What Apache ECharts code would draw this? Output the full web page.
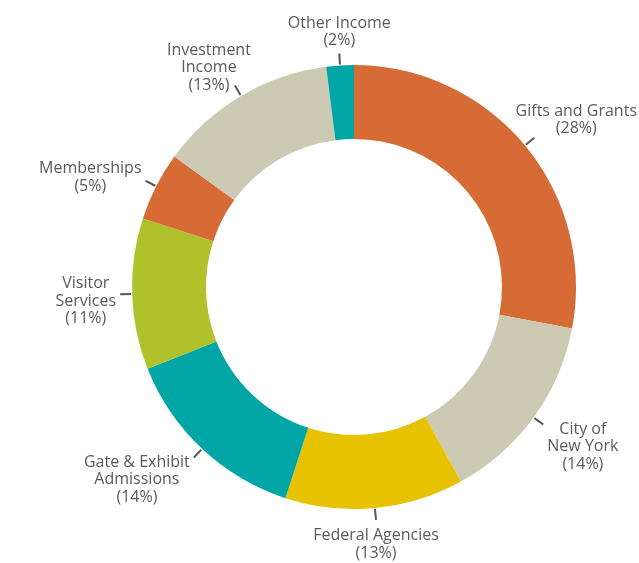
<!DOCTYPE html>
<html>
<head>
<meta charset="utf-8">
<script src="https://cdn.jsdelivr.net/npm/echarts@6/dist/echarts.min.js"></script>
<style>
  html, body { margin: 0; padding: 0; background: #fff; }
  #chart { width: 639px; height: 563px; }
</style>
</head>
<body>
<div id="chart"></div>
<script>
// 收入来源 (clockwise from the top)
const categories = [
  "Gifts and Grants",
  "City of\nNew York",
  "Federal Agencies",
  "Gate & Exhibit\nAdmissions",
  "Visitor\nServices",
  "Memberships",
  "Investment\nIncome",
  "Other Income",
];
const shares = [28, 14, 13, 14, 11, 5, 13, 2];
const sliceColors = [
  "#d66b36", "#cdcab3", "#e7c200", "#00a5a5",
  "#afc22b", "#d66b36", "#cdcab3", "#00a5a5",
];

const W = 639;
const cx = 354, cy = 287, outerR = 222, innerR = 148;
const total = shares.reduce((a, b) => a + b, 0);

// 每个扇区的中间角度 (从正上方顺时针)
function midAngle(i) {
  let before = 0;
  for (let k = 0; k < i; k++) before += shares[k];
  return ((before + shares[i] / 2) / total) * Math.PI * 2;
}

const chart = echarts.init(document.getElementById("chart"));
chart.setOption({
  animation: false,
  series: [
    {
      type: "pie",
      center: [cx, cy],
      radius: [innerR, outerR],
      startAngle: 90,
      clockwise: true,
      avoidLabelOverlap: false,
      data: categories.map((name, i) => ({
        name: name,
        value: shares[i],
        itemStyle: { color: sliceColors[i] },
      })),
      itemStyle: { borderWidth: 0 },
      label: {
        show: true,
        formatter: (p) => p.name + "\n(" + p.value + "%)",
        color: "#5a5a5a",
        fontSize: 16,
        lineHeight: 17.5,
        fontFamily: "Open Sans, Liberation Sans, sans-serif",
        align: "center",
      },
      labelLine: {
        show: true,
        length: 11,
        length2: 0,
        lineStyle: { color: "#555", width: 2 },
      },
      // 标签位置: 上下两端居中, 上方斜向放在引线上方, 其余放在引线侧面
      labelLayout: (params) => {
        const a = midAngle(params.dataIndex);
        const dx = Math.sin(a), dy = -Math.cos(a);
        const p0 = [cx + dx * (outerR + 1), cy + dy * (outerR + 1)];
        const p1 = [cx + dx * (outerR + 12), cy + dy * (outerR + 12)];
        const w = params.labelRect.width / 2;
        const h = params.labelRect.height / 2;
        const sx = dx >= 0 ? 1 : -1;
        let x, y;
        if (Math.abs(dy) > 0.9) {
          x = p1[0];
          y = p1[1] + (dy > 0 ? h + 7 : -(h + 4));
        } else if (dy < -0.55) {
          x = p1[0] + sx * (w - 16);
          y = p1[1] - 18;
        } else {
          x = p1[0] + sx * (w + 4);
          y = p1[1] + (dy > 0.3 ? h - 4 : 6 + dy * 20);
        }
        x = Math.min(Math.max(x, w + 2), W - w - 2);
        return {
          x: x,
          y: y,
          align: "center",
          verticalAlign: "middle",
          labelLinePoints: [p0, p1],
        };
      },
      emphasis: { disabled: true },
    },
  ],
});
</script>
</body>
</html>
